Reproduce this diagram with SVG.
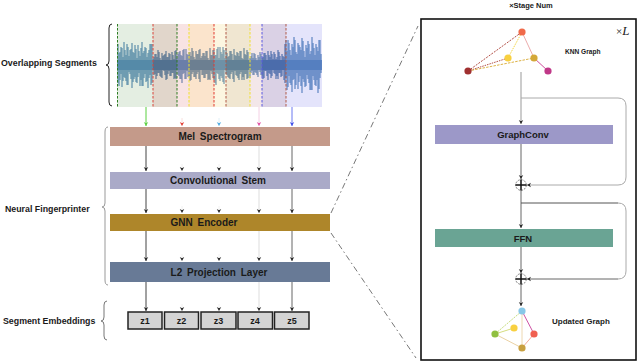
<svg xmlns="http://www.w3.org/2000/svg" width="640" height="364" viewBox="0 0 640 364">
<style>
.t{font-family:"Liberation Sans",Arial,sans-serif;font-weight:bold;fill:#1a1a1a}
.lbl{font-size:8.8px}
.box{font-size:10px;word-spacing:2px;text-anchor:middle}
.rbox{font-size:9.5px;text-anchor:middle}
.z{font-size:9px;text-anchor:middle}
.seg{stroke-width:1;stroke-dasharray:2.5 1.5;fill:none}
.brace{fill:none;stroke-width:1}
.c{fill:none;stroke-width:1}
.zoomln{stroke:#777;stroke-width:1;stroke-dasharray:6 3 1.5 3;fill:none}
.plus{fill:#fff;stroke:#666;stroke-width:0.8;stroke-dasharray:2 1}
</style>
<defs>
<marker id="mk" viewBox="-5 -3 6 6" refX="0" refY="0" markerWidth="6" markerHeight="6" markerUnits="userSpaceOnUse" orient="auto"><path d="M-4,-2.2 L0,0 L-4,2.2 L-2.8,0 z" fill="#222"/></marker>
<marker id="mkg" viewBox="-5 -3 6 6" refX="0" refY="0" markerWidth="6" markerHeight="6" markerUnits="userSpaceOnUse" orient="auto"><path d="M-4,-2.2 L0,0 L-4,2.2 L-2.8,0 z" fill="#5ad040"/></marker>
<marker id="mkr" viewBox="-5 -3 6 6" refX="0" refY="0" markerWidth="6" markerHeight="6" markerUnits="userSpaceOnUse" orient="auto"><path d="M-4,-2.2 L0,0 L-4,2.2 L-2.8,0 z" fill="#e03a30"/></marker>
<marker id="mkc" viewBox="-5 -3 6 6" refX="0" refY="0" markerWidth="6" markerHeight="6" markerUnits="userSpaceOnUse" orient="auto"><path d="M-4,-2.2 L0,0 L-4,2.2 L-2.8,0 z" fill="#4aa8e0"/></marker>
<marker id="mkp" viewBox="-5 -3 6 6" refX="0" refY="0" markerWidth="6" markerHeight="6" markerUnits="userSpaceOnUse" orient="auto"><path d="M-4,-2.2 L0,0 L-4,2.2 L-2.8,0 z" fill="#e04aa0"/></marker>
<marker id="mkb" viewBox="-5 -3 6 6" refX="0" refY="0" markerWidth="6" markerHeight="6" markerUnits="userSpaceOnUse" orient="auto"><path d="M-4,-2.2 L0,0 L-4,2.2 L-2.8,0 z" fill="#3a4ae8"/></marker>
</defs>
<rect x="0" y="0" width="640" height="364" fill="#fff"/>

<g id="waveform">
<path fill="none" stroke="#2c6aa8" stroke-width="1.1" d="M118,44V83M120,52V80M122,48V87M124,42V77M126,55V81M128,47V85M130,50V74M132,43V88M134,53V79M136,49V82M138,45V77M140,56V86M142,42V86M144,51V78M146,48V82M148,53V88M150,44V75M152,44V83M154,57V75M156,54V79M158,50V73M160,58V76M162,53V78M164,55V71M166,51V80M168,57V74M170,54V76M172,52V73M174,59V79M176,50V79M178,54V75M180,51V79M182,56V83M184,49V73M186,49V79M188,55V77M190,52V81M192,48V74M194,57V77M196,51V79M198,54V72M200,49V82M202,56V75M204,53V78M206,51V74M208,58V80M210,48V80M212,55V74M214,50V80M216,55V85M218,47V74M220,47V81M222,54V78M224,50V84M226,48V74M228,57V77M230,51V79M232,54V72M234,49V82M236,56V75M238,53V78M240,51V74M242,58V80M244,48V80M246,55V74M248,52V78M250,58V78M252,53V71M254,53V75M256,58V73M258,55V77M260,52V72M262,58V76M264,53V78M266,55V71M268,51V80M270,57V74M272,54V76M274,52V73M276,59V79M278,50V79M280,56V73M282,54V76M284,57V80M286,40V78M288,40V87M290,50V83M292,44V92M294,37V79M296,52V85M298,43V89M300,47V76M302,38V93M304,51V82M306,45V86M308,41V79M310,54V90M312,37V90M314,48V80M316,44V86M318,51V93M320,40V78"/>
<path fill="none" stroke="#2c6aa8" stroke-width="1.1" d="M119,53V86M121,47V74M123,57V81M125,50V78M127,44V85M129,56V72M131,49V79M133,52V82M135,45V77M137,58V83M139,51V73M141,48V80M143,53V86M145,47V74M147,57V81M149,50V78M151,44V85M153,59V70M155,54V74M157,57V76M159,52V73M161,60V77M163,56V70M165,54V75M167,57V79M169,53V71M171,60V76M173,55V73M175,51V78M177,58V70M179,52V76M181,55V79M183,50V74M185,60V79M187,54V71M189,52V76M191,56V80M193,51V72M195,59V77M197,54V74M199,50V79M201,58V70M203,53V75M205,56V78M207,51V74M209,60V79M211,55V71M213,50V78M215,55V83M217,49V73M219,58V79M221,52V76M223,47V82M225,58V70M227,53V75M229,56V78M231,51V74M233,60V79M235,55V71M237,52V76M239,56V80M241,51V72M243,59V77M245,54V74M247,50V79M249,60V69M251,56V73M253,58V75M255,54V72M257,61V75M259,57V70M261,54V75M263,57V79M265,53V71M267,60V76M269,55V73M271,51V78M273,59V70M275,54V74M277,57V76M279,52V73M281,60V77M283,56V70M285,44V83M287,51V90M289,43V76M291,55V85M293,47V80M295,40V89M297,54V73M299,45V82M301,50V86M303,41V79M305,57V87M307,48V75M309,44V83M311,51V90M313,43V76M315,55V85M317,47V80M319,40V89M321,54V73"/>
<rect x="117" y="60" width="205" height="10" fill="#2c6aa8" opacity="0.85"/>
<g opacity="0.3">
<rect x="117" y="24" width="36" height="83" fill="#a8caa2"/>
<rect x="153" y="24" width="24" height="83" fill="#9e7a55"/>
<rect x="177" y="24" width="12" height="83" fill="#eba5a5"/>
<rect x="189" y="24" width="25" height="83" fill="#f2a858"/>
<rect x="214" y="24" width="12" height="83" fill="#f8e49e"/>
<rect x="226" y="24" width="24" height="83" fill="#d0af69"/>
<rect x="250" y="24" width="12" height="83" fill="#dab2b9"/>
<rect x="262" y="24" width="24" height="83" fill="#8769ac"/>
<rect x="286" y="24" width="36" height="83" fill="#a8a8f2"/>
</g>
<line class="seg" x1="117.5" y1="24" x2="117.5" y2="107" stroke="#2e7d22"/>
<line class="seg" x1="153" y1="24" x2="153" y2="107" stroke="#d9453a"/>
<line class="seg" x1="177" y1="24" x2="177" y2="107" stroke="#2e7d22"/>
<line class="seg" x1="189" y1="24" x2="189" y2="107" stroke="#f0e030"/>
<line class="seg" x1="214" y1="24" x2="214" y2="107" stroke="#e03a30"/>
<line class="seg" x1="226" y1="24" x2="226" y2="107" stroke="#b05a48"/>
<line class="seg" x1="250" y1="24" x2="250" y2="107" stroke="#f0e030"/>
<line class="seg" x1="262" y1="24" x2="262" y2="107" stroke="#5a5ae0"/>
<line class="seg" x1="286" y1="24" x2="286" y2="107" stroke="#b05a48"/>
</g>

<g id="labels-left">
<text class="t lbl" x="1" y="66">Overlapping Segments</text>
<text class="t lbl" x="5" y="212">Neural Fingerprinter</text>
<text class="t lbl" x="3" y="324">Segment Embeddings</text>
<path class="brace" stroke="#222" d="M112,24 Q109,24 109,28 V61 Q109,65 106,65 Q109,65 109,69 V102 Q109,106 112,106"/>
<path class="brace" stroke="#999" d="M108,127 Q105,127 105,132 V203 Q105,207 102,207 Q105,207 105,211 V280 Q105,285 108,285"/>
<path class="brace" stroke="#777" d="M107,301 Q104,301 104,305 V317 Q104,321 101,321 Q104,321 104,325 V336 Q104,340 107,340"/>
</g>

<g id="connectors">
<line class="c" x1="146" y1="107" x2="146" y2="126" stroke="#5ad040" marker-end="url(#mkg)"/>
<line class="c" x1="182" y1="118" x2="182" y2="126" stroke="#f8e0de" marker-end="url(#mkr)"/>
<line class="c" x1="219" y1="118" x2="219" y2="126" stroke="#e0f0f8" marker-end="url(#mkc)"/>
<line class="c" x1="259" y1="107" x2="259" y2="126" stroke="#f4d0e4" marker-end="url(#mkp)"/>
<line class="c" x1="292" y1="107" x2="292" y2="126" stroke="#6a78f0" marker-end="url(#mkb)"/>

<line class="c" x1="146" y1="146" x2="146" y2="171" stroke="#444" marker-end="url(#mk)"/>
<line class="c" x1="182" y1="164" x2="182" y2="171" stroke="#f2f2f2" marker-end="url(#mk)"/>
<line class="c" x1="219" y1="164" x2="219" y2="171" stroke="#f2f2f2" marker-end="url(#mk)"/>
<line class="c" x1="259" y1="146" x2="259" y2="171" stroke="#ddd" marker-end="url(#mk)"/>
<line class="c" x1="292" y1="146" x2="292" y2="171" stroke="#666" marker-end="url(#mk)"/>

<line class="c" x1="146" y1="189" x2="146" y2="213" stroke="#444" marker-end="url(#mk)"/>
<line class="c" x1="182" y1="206" x2="182" y2="213" stroke="#f2f2f2" marker-end="url(#mk)"/>
<line class="c" x1="219" y1="206" x2="219" y2="213" stroke="#f2f2f2" marker-end="url(#mk)"/>
<line class="c" x1="259" y1="189" x2="259" y2="213" stroke="#ddd" marker-end="url(#mk)"/>
<line class="c" x1="292" y1="189" x2="292" y2="213" stroke="#666" marker-end="url(#mk)"/>

<line class="c" x1="146" y1="231" x2="146" y2="261" stroke="#444" marker-end="url(#mk)"/>
<line class="c" x1="182" y1="254" x2="182" y2="261" stroke="#f2f2f2" marker-end="url(#mk)"/>
<line class="c" x1="219" y1="254" x2="219" y2="261" stroke="#f2f2f2" marker-end="url(#mk)"/>
<line class="c" x1="259" y1="231" x2="259" y2="261" stroke="#ddd" marker-end="url(#mk)"/>
<line class="c" x1="292" y1="231" x2="292" y2="261" stroke="#666" marker-end="url(#mk)"/>

<line class="c" x1="146" y1="282" x2="146" y2="311" stroke="#444" marker-end="url(#mk)"/>
<line class="c" x1="182" y1="304" x2="182" y2="311" stroke="#f2f2f2" marker-end="url(#mk)"/>
<line class="c" x1="219" y1="304" x2="219" y2="311" stroke="#f2f2f2" marker-end="url(#mk)"/>
<line class="c" x1="259" y1="282" x2="259" y2="311" stroke="#ddd" marker-end="url(#mk)"/>
<line class="c" x1="292" y1="282" x2="292" y2="311" stroke="#666" marker-end="url(#mk)"/>

<line class="zoomln" x1="331" y1="213" x2="418" y2="26"/>
<line class="zoomln" x1="331" y1="233" x2="416" y2="358"/>

<line class="c" x1="521" y1="72" x2="521" y2="124" stroke="#999" marker-end="url(#mk)"/>
<line class="c" x1="521" y1="144" x2="521" y2="179" stroke="#666" marker-end="url(#mk)"/>
<line class="c" x1="521" y1="190.5" x2="521" y2="228" stroke="#666" marker-end="url(#mk)"/>
<line class="c" x1="521" y1="247" x2="521" y2="273" stroke="#666" marker-end="url(#mk)"/>
<line class="c" x1="521" y1="284.5" x2="521" y2="306" stroke="#666" marker-end="url(#mk)"/>
<path class="c" stroke="#aaa" d="M521,98 H618 Q626,98 626,106 V177 Q626,185 618,185 H527" marker-end="url(#mk)"/>
<path class="c" stroke="#aaa" d="M618,203 Q626,203 626,211 V271 Q626,279 618,279"/>
<path class="c" stroke="#555" stroke-width="1.2" d="M521,203 H618"/>
<path class="c" stroke="#666" stroke-width="1.4" d="M618,279 H527" marker-end="url(#mk)"/>
</g>

<g id="mel-spectrogram"><rect x="110" y="127" width="220" height="19" fill="#c49a8a"/><text class="t box" x="220" y="140">Mel Spectrogram</text></g>
<g id="conv-stem"><rect x="110" y="172" width="220" height="17" fill="#aaaac8"/><text class="t box" x="218" y="184">Convolutional Stem</text></g>
<g id="gnn-encoder"><rect x="110" y="214" width="220" height="17" fill="#ae862a"/><text class="t box" x="204" y="226">GNN Encoder</text></g>
<g id="l2-projection"><rect x="110" y="262" width="220" height="20" fill="#687a96"/><text class="t box" x="219" y="276">L2 Projection Layer</text></g>

<g id="z1"><rect x="128" y="312" width="34" height="17" fill="#d4d4d4" stroke="#222" stroke-width="1.5"/><text class="t z" x="145" y="324">z1</text></g>
<g id="z2"><rect x="164.5" y="312" width="34" height="17" fill="#d4d4d4" stroke="#222" stroke-width="1.5"/><text class="t z" x="181.5" y="324">z2</text></g>
<g id="z3"><rect x="201" y="312" width="35" height="17" fill="#d4d4d4" stroke="#222" stroke-width="1.5"/><text class="t z" x="218.5" y="324">z3</text></g>
<g id="z4"><rect x="238" y="312" width="34.5" height="17" fill="#d4d4d4" stroke="#222" stroke-width="1.5"/><text class="t z" x="255" y="324">z4</text></g>
<g id="z5"><rect x="274.5" y="312" width="34.5" height="17" fill="#d4d4d4" stroke="#222" stroke-width="1.5"/><text class="t z" x="292" y="324">z5</text></g>

<g id="stage-box">
<text class="t" x="531" y="8" font-size="7.5" text-anchor="middle">×Stage Num</text>
<rect x="421" y="19" width="215" height="341" fill="none" stroke="#111" stroke-width="1.6"/>
<text x="616" y="35" font-family="Liberation Serif,serif" font-size="11" fill="#222">×<tspan font-style="italic" font-size="13">L</tspan></text>
</g>

<g id="knn-graph">
<line x1="468" y1="71" x2="522" y2="32" stroke="#a83a30" stroke-width="0.9" stroke-dasharray="2 1.2"/>
<line x1="468" y1="71" x2="508" y2="58" stroke="#a83a30" stroke-width="0.9" stroke-dasharray="1.5 1"/>
<line x1="468" y1="71" x2="534" y2="58" stroke="#d8a830" stroke-width="0.9" stroke-dasharray="2.5 1.2"/>
<line x1="508" y1="58" x2="522" y2="32" stroke="#f0d030" stroke-width="0.9" stroke-dasharray="1.5 1"/>
<line x1="522" y1="32" x2="534" y2="58" stroke="#e8a0a0" stroke-width="0.9"/>
<line x1="534" y1="58" x2="548" y2="71" stroke="#c83890" stroke-width="0.9"/>
<circle cx="522" cy="32" r="3.6" fill="#f06a4a"/>
<circle cx="508" cy="58" r="3.6" fill="#f8d040"/>
<circle cx="534" cy="58" r="3.6" fill="#d4a838"/>
<circle cx="548" cy="71" r="3.6" fill="#c03888"/>
<circle cx="468" cy="71" r="3.6" fill="#a03030"/>
<text class="t" x="565" y="54" font-size="6.6">KNN Graph</text>
</g>

<g id="graphconv"><rect x="435" y="125" width="178" height="19" fill="#9c98c8"/><text class="t rbox" x="523" y="138">GraphConv</text></g>
<g id="add1"><circle class="plus" cx="521" cy="185" r="5.3"/><path d="M515.5,185 H526.5 M521,179.5 V190.5" stroke="#111" stroke-width="1.5"/></g>
<g id="ffn"><rect x="435" y="229" width="178" height="18" fill="#6aa494"/><text class="t rbox" x="523" y="241.5">FFN</text></g>
<g id="add2"><circle class="plus" cx="521" cy="279" r="5.3"/><path d="M515.5,279 H526.5 M521,273.5 V284.5" stroke="#111" stroke-width="1.5"/></g>

<g id="updated-graph">
<line x1="522" y1="311" x2="495" y2="334" stroke="#c0d870" stroke-width="0.9" stroke-dasharray="2 1"/>
<line x1="514" y1="328" x2="495" y2="334" stroke="#d0d870" stroke-width="0.9"/>
<line x1="495" y1="334" x2="522" y2="348" stroke="#e8cc98" stroke-width="0.9"/>
<line x1="522" y1="311" x2="522" y2="348" stroke="#ecd4a8" stroke-width="0.9"/>
<line x1="522" y1="311" x2="534" y2="334" stroke="#c84098" stroke-width="0.9"/>
<line x1="534" y1="334" x2="522" y2="348" stroke="#f0a090" stroke-width="0.9"/>
<circle cx="522" cy="311" r="3.6" fill="#88c8e8"/>
<circle cx="514" cy="328" r="3.6" fill="#f8d040"/>
<circle cx="534" cy="334" r="3.6" fill="#f06050"/>
<circle cx="495" cy="334" r="3.6" fill="#90c040"/>
<circle cx="522" cy="348" r="3.6" fill="#c8a040"/>
<text class="t" x="552" y="324" font-size="8">Updated Graph</text>
</g>
</svg>
